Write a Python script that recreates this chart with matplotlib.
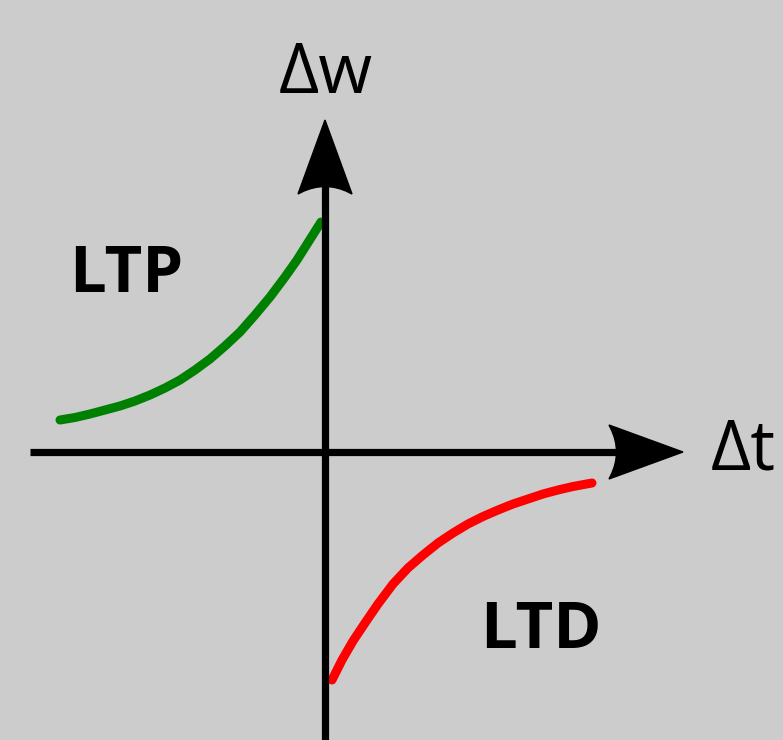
import matplotlib
matplotlib.use("Agg")
import matplotlib.pyplot as plt
from matplotlib.patches import Polygon
import numpy as np

# Data (Δt, Δw) read from the schematic
ltp_dt = [-2.65, -2.50, -2.35, -2.20, -2.05, -1.90, -1.75, -1.60, -1.45, -1.30,
          -1.15, -1.00, -0.85, -0.70, -0.55, -0.40, -0.28, -0.16, -0.04]
ltp_dw = [0.32, 0.345, 0.38, 0.42, 0.46, 0.51, 0.57, 0.64, 0.72, 0.82,
          0.93, 1.06, 1.20, 1.37, 1.55, 1.75, 1.92, 2.11, 2.30]
ltd_dt = [0.07, 0.17, 0.28, 0.40, 0.53, 0.68, 0.83, 0.98, 1.13, 1.28,
          1.43, 1.58, 1.73, 1.88, 2.03, 2.18, 2.33, 2.48, 2.67]
ltd_dw = [-2.28, -2.08, -1.89, -1.71, -1.52, -1.32, -1.16, -1.03, -0.91, -0.81,
          -0.72, -0.645, -0.58, -0.52, -0.47, -0.42, -0.38, -0.345, -0.31]

x_axis_range = (-2.95, 3.58)
y_axis_range = (-2.90, 3.32)
labels = {"x": "Δt", "y": "Δw", "ltp": "LTP", "ltd": "LTD"}

BG = "#cccccc"
fig = plt.figure(figsize=(7.83, 7.40), dpi=100, facecolor=BG)
ax = fig.add_axes([0, 0, 1, 1], facecolor=BG)
ax.set_xlim(-3.25, 4.58)
ax.set_ylim(-2.88, 4.52)
ax.axis("off")

# curves
ax.plot(ltp_dt, ltp_dw, color="#008000", lw=6.5, solid_capstyle="round",
        solid_joinstyle="round", zorder=2)
ax.plot(ltd_dt, ltd_dw, color="#ff0000", lw=6.5, solid_capstyle="round",
        solid_joinstyle="round", zorder=2)


def stealth_head(tip, direction, length=0.72, width=0.54, notch=0.13):
    d = np.array(direction, float)
    d /= np.linalg.norm(d)
    n = np.array([-d[1], d[0]])
    tip = np.array(tip, float)
    base = tip - d * length
    left = base + n * width / 2 - d * 0.02
    right = base - n * width / 2 - d * 0.02
    inner = base + d * notch
    pts = [tip, left]
    for ti in np.linspace(0, 1, 10)[1:-1]:
        pts.append((1 - ti) ** 2 * left + 2 * (1 - ti) * ti * inner + ti ** 2 * right)
    pts.append(right)
    return Polygon(pts, closed=True, facecolor="black", edgecolor="black", lw=1, zorder=4)


# axes lines
ax.plot([x_axis_range[0], x_axis_range[1] - 0.5], [0, 0], color="black", lw=5.2,
        zorder=3, solid_capstyle="butt")
ax.plot([0, 0], [y_axis_range[0], y_axis_range[1] - 0.5], color="black", lw=5.2,
        zorder=3, solid_capstyle="butt")
ax.add_patch(stealth_head((x_axis_range[1], 0), (1, 0)))
ax.add_patch(stealth_head((0, y_axis_range[1]), (0, 1)))

fam = ["Open Sans", "DejaVu Sans"]
ax.text(0.01, 3.77, labels["y"], fontsize=50, family=fam, ha="center", va="center")
ax.text(4.18, 0.0, labels["x"], fontsize=50, family=fam, ha="center", va="center")
ax.text(-1.99, 1.77, labels["ltp"], fontsize=47, family=fam, weight="bold",
        ha="center", va="center")
ax.text(2.16, -1.79, labels["ltd"], fontsize=47, family=fam, weight="bold",
        ha="center", va="center")

fig.savefig("out.png", dpi=100, facecolor=BG)
